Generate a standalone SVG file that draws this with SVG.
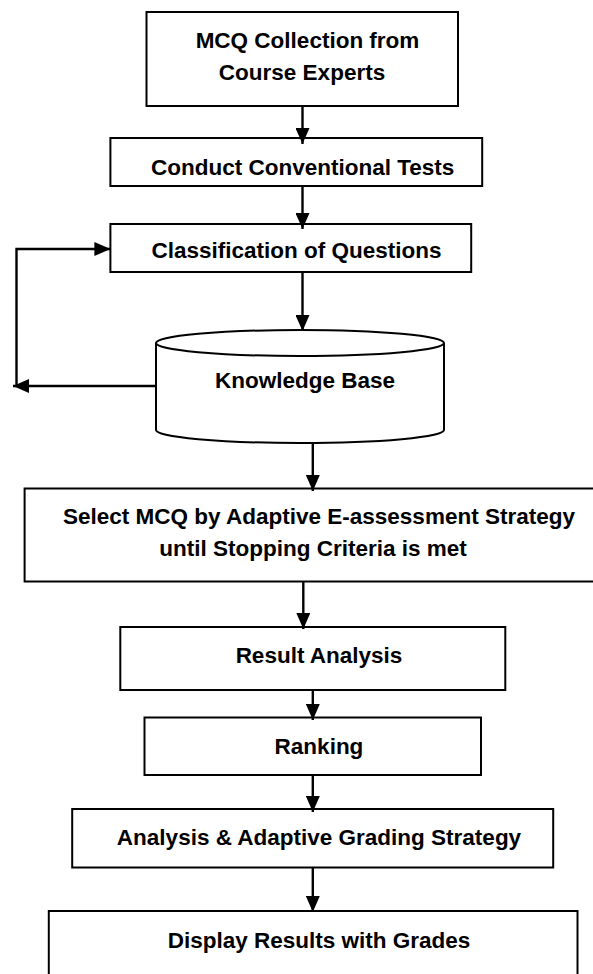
<svg xmlns="http://www.w3.org/2000/svg" width="593" height="974" viewBox="0 0 593 974">
<defs>
<marker id="arr" markerUnits="userSpaceOnUse" markerWidth="16" markerHeight="14" refX="16" refY="7" orient="auto">
<path d="M0,0 L16,7 L0,14 z" fill="#000"/>
</marker>
<style>
.box{fill:#fff;stroke:#000;stroke-width:2}
.lbl{font-family:"Liberation Sans",Arial,sans-serif;font-weight:bold;font-size:22.5px;fill:#000;text-anchor:middle}
.con{fill:none;stroke:#000;stroke-width:2.4;marker-end:url(#arr)}
.plain{fill:none;stroke:#000;stroke-width:2.4}
</style>
</defs>
<rect width="593" height="974" fill="#fff"/>
<g id="n1">
<rect class="box" x="146.5" y="12" width="311.5" height="94"/>
<text class="lbl" x="307.5" y="48">MCQ Collection from</text>
<text class="lbl" x="302" y="80">Course Experts</text>
</g>
<g id="n2">
<rect class="box" x="110.4" y="138" width="371.8" height="48"/>
<text class="lbl" x="302.6" y="175">Conduct Conventional Tests</text>
</g>
<g id="n3">
<rect class="box" x="110.4" y="224" width="360.8" height="48"/>
<text class="lbl" x="296.5" y="258">Classification of Questions</text>
</g>
<g id="n4">
<path class="box" d="M156,343 L156,430 A144,13 0 0 0 444,430 L444,343 A144,13 0 0 0 156,343 Z"/>
<path class="box" style="fill:none" d="M156,343 A144,13 0 0 0 444,343"/>
<text class="lbl" x="305" y="388">Knowledge Base</text>
</g>
<g id="n5">
<rect class="box" x="24.6" y="488.5" width="580" height="93"/>
<text class="lbl" x="319" y="524">Select MCQ by Adaptive E-assessment Strategy</text>
<text class="lbl" x="313" y="556">until Stopping Criteria is met</text>
</g>
<g id="n6">
<rect class="box" x="120.3" y="627" width="385" height="63"/>
<text class="lbl" x="319" y="663">Result Analysis</text>
</g>
<g id="n7">
<rect class="box" x="144.5" y="717.5" width="336.5" height="57.5"/>
<text class="lbl" x="319" y="754">Ranking</text>
</g>
<g id="n8">
<rect class="box" x="72.2" y="809" width="481" height="58.5"/>
<text class="lbl" x="319" y="845">Analysis &amp; Adaptive Grading Strategy</text>
</g>
<g id="n9">
<rect class="box" x="48.8" y="911" width="528.7" height="80"/>
<text class="lbl" x="319" y="948">Display Results with Grades</text>
</g>
<g id="connectors">
<path class="con" d="M302.5,106 L302.5,144"/>
<path class="con" d="M302.5,186 L302.5,229"/>
<path class="con" d="M302.5,272 L302.5,331"/>
<path class="con" d="M156,386 L13,386"/>
<path class="con" d="M16.5,386 L16.5,249 L110.4,249"/>
<path class="con" d="M312.8,443 L312.8,491"/>
<path class="con" d="M303.3,582 L303.3,629"/>
<path class="con" d="M312.8,690 L312.8,720"/>
<path class="con" d="M312.8,775 L312.8,812"/>
<path class="con" d="M312.8,867 L312.8,912"/>
</g>
</svg>
